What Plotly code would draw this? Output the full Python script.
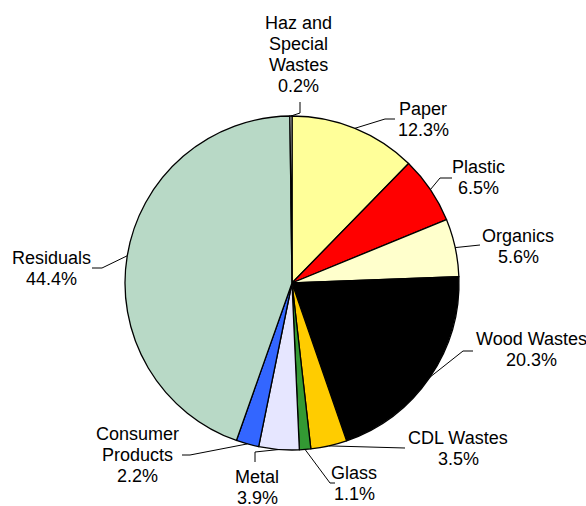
import math
import plotly.graph_objects as go

# ---- data ----
categories = ["Paper", "Plastic", "Organics", "Wood Wastes", "CDL Wastes", "Glass",
              "Metal", "Consumer<br>Products", "Residuals", "Haz and<br>Special<br>Wastes"]
values = [12.3, 6.5, 5.6, 20.3, 3.5, 1.1, 3.9, 2.2, 44.4, 0.2]

# ---- style ----
colors = ["#FFFF99", "#FF0000", "#FFFFCC", "#000000", "#FFCC00", "#339933",
          "#E6E6FF", "#3366FF", "#B8D9C6", "#FFFFFF"]
W, H = 586, 506
CX, CY, R = 292, 283, 167
LINE_H = 21
FONT = dict(family="Liberation Sans, Arial", size=18, color="#000000")
# label centers (px) and leader elbow points (px)
label_pos = [(423, 119), (478, 177), (518, 246), (531, 349), (458, 448),
             (354, 483), (257, 487), (137, 455), (51, 268), (298, 54)]
elbows = [[(385, 119), (395, 119)],
          [(440, 178), (452, 178)],
          [(480, 245)],
          [(463, 351), (473, 351)],
          [(405, 448)],
          [(330, 483), (335, 483)],
          [(255, 452), (255, 462)],
          [(190, 455), (182, 455)],
          [(102, 268), (92, 268)],
          [(300, 113), (300, 102)]]

fig = go.Figure()
fig.add_trace(go.Pie(
    labels=[c.replace("<br>", " ") for c in categories], values=values,
    sort=False, direction="clockwise", rotation=0,
    marker=dict(colors=colors, line=dict(color="#000000", width=1.3)),
    textinfo="none", hoverinfo="label+percent", showlegend=False,
    domain=dict(x=[(CX - R) / W, (CX + R) / W],
                y=[(H - CY - R) / H, (H - CY + R) / H]),
))

total = sum(values)
cum = 0.0
shapes = []
annotations = []
for i, (cat, v) in enumerate(zip(categories, values)):
    mid = (cum + v / 2) / total * 2 * math.pi
    cum += v
    sx = CX + R * math.sin(mid)
    sy = CY - R * math.cos(mid)
    pts = [(sx, sy)] + elbows[i]
    path = "M " + " L ".join(f"{x:.1f},{y:.1f}" for x, y in pts)
    shapes.append(dict(type="path", path=path, xref="x", yref="y",
                       line=dict(color="#000000", width=1)))
    lx, ly = label_pos[i]
    lines = cat.split("<br>") + [f"{v:.1f}%"]
    n = len(lines)
    for k, line in enumerate(lines):
        annotations.append(dict(x=lx, y=ly + (k - (n - 1) / 2) * LINE_H,
                                xref="x", yref="y", text=line, showarrow=False,
                                xanchor="center", yanchor="middle", align="center",
                                font=FONT))

fig.update_layout(
    width=W, height=H, margin=dict(l=0, r=0, t=0, b=0),
    paper_bgcolor="white", plot_bgcolor="white",
    xaxis=dict(range=[0, W], visible=False, fixedrange=True, domain=[0, 1]),
    yaxis=dict(range=[H, 0], visible=False, fixedrange=True, domain=[0, 1]),
    shapes=shapes, annotations=annotations,
)
fig.write_html("out.html", config={"displayModeBar": False},
               post_script="document.body.style.margin='0';document.body.style.overflow='hidden';")
